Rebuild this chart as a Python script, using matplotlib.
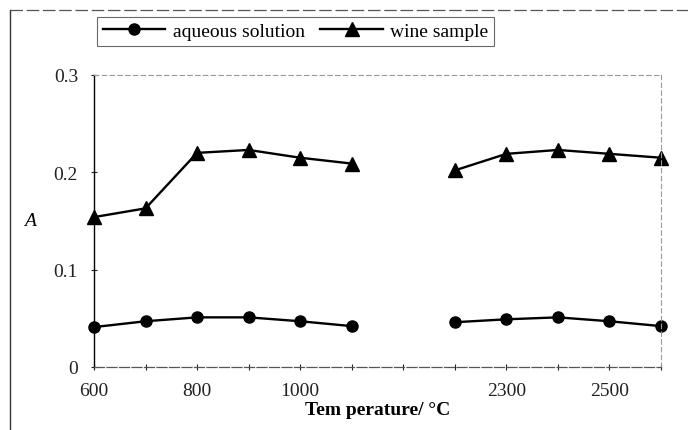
import numpy as np
import matplotlib
matplotlib.use("Agg")
import matplotlib.pyplot as plt
from matplotlib.lines import Line2D

# categories on the x axis (empty slot between the two ranges)
temps = ["600", "700", "800", "900", "1000", "1100", "",
         "2200", "2300", "2400", "2500", "2600"]
shown = ["600", "800", "1000", "2300", "2500"]

aqueous = [0.041, 0.047, 0.051, 0.051, 0.047, 0.042, np.nan,
           0.046, 0.049, 0.051, 0.047, 0.042]
wine = [0.154, 0.163, 0.220, 0.223, 0.215, 0.209, np.nan,
        0.202, 0.219, 0.223, 0.219, 0.215]

plt.rcParams['font.family'] = ['Liberation Serif', 'DejaVu Serif']

fig = plt.figure(figsize=(6.88, 4.31), dpi=100)
ax = fig.add_axes([94/688, 1-368/431, (661-94)/688, (368-76)/431])

x = np.arange(len(temps))
ax.plot(x, aqueous, color='black', lw=1.7, marker='o', ms=8,
        label='aqueous solution', clip_on=False)
ax.plot(x, wine, color='black', lw=1.7, marker='^', ms=9.5,
        label='wine sample', clip_on=False)

ax.set_xlim(0, len(temps) - 1)
ax.set_ylim(0, 0.3)
ax.set_yticks([0, 0.1, 0.2, 0.3])
ax.set_yticklabels(['0', '0.1', '0.2', '0.3'])
ax.set_xticks(x)
ax.set_xticklabels([t if t in shown else '' for t in temps])
ax.tick_params(axis='both', direction='inout', length=5, width=0.8,
               labelsize=14, colors='#222222')
ax.tick_params(axis='y', pad=9)
ax.tick_params(axis='x', pad=8)

ax.spines['left'].set_color('black')
ax.spines['left'].set_linewidth(1.0)
ax.spines['bottom'].set_color('#555555')
ax.spines['bottom'].set_linewidth(0.9)
ax.spines['bottom'].set_linestyle((0, (8, 2)))
for s in ['top', 'right']:
    ax.spines[s].set_color('#9a9a9a')
    ax.spines[s].set_linewidth(0.8)
    ax.spines[s].set_linestyle((0, (4, 3)))

ax.set_xlabel('Tem perature/ °C', fontsize=14, fontweight='bold', labelpad=2)
ax.set_ylabel('A', fontsize=14, style='italic', rotation=0, va='center')
ax.yaxis.set_label_coords(-0.113, 0.5)

leg = ax.legend(loc='lower left', bbox_to_anchor=(97/688, 1-47/431),
                bbox_transform=fig.transFigure, ncol=2, fontsize=14,
                frameon=True, fancybox=False, handlelength=3.2,
                handletextpad=0.4, columnspacing=0.8, borderpad=0.3,
                borderaxespad=0)
leg.get_frame().set_edgecolor('#444444')
leg.get_frame().set_linewidth(0.8)

# outer chart border (only left and top survive in the scan)
fig.add_artist(Line2D([10/688, 10/688], [0, 1-11/431], color='#333333',
                      lw=1.0, transform=fig.transFigure))
fig.add_artist(Line2D([10/688, 1], [1-11/431, 1-11/431], color='#555555',
                      lw=0.9, ls=(0, (10, 3)), transform=fig.transFigure))

fig.savefig('out.png', dpi=100)
